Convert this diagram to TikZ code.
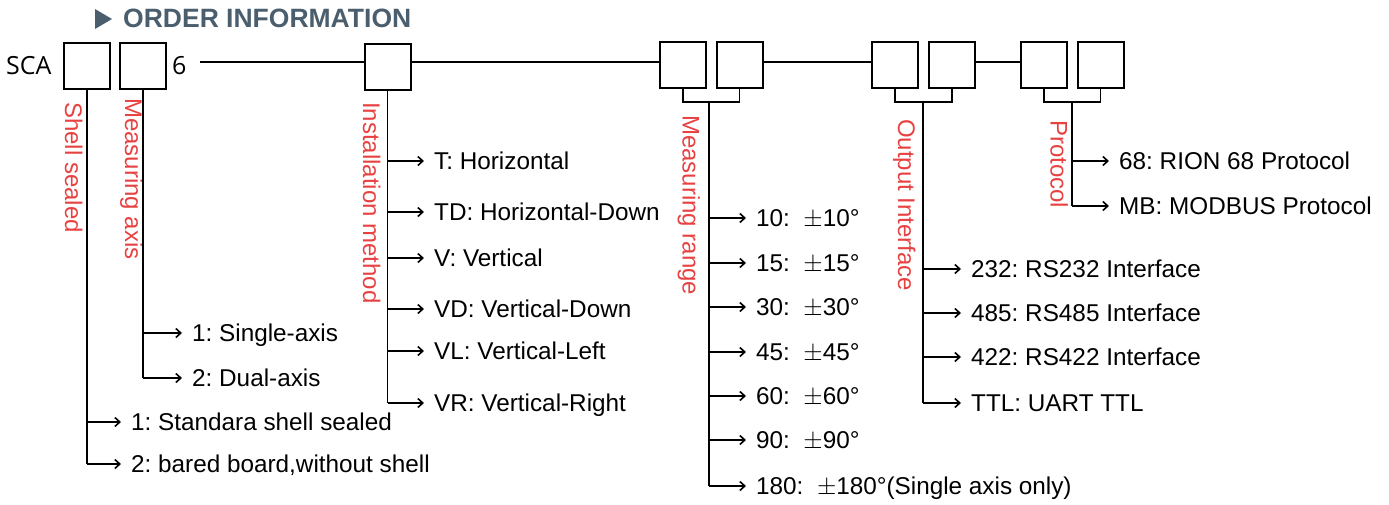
\documentclass[tikz,border=0pt]{standalone}
\usepackage{fontspec}
\setmainfont{Liberation Sans}
\newfontfamily\scafont{Open Sans}
\usetikzlibrary{arrows.meta}
\definecolor{lblred}{RGB}{232,65,65}
\definecolor{ttl}{RGB}{74,94,110}
\frenchspacing
\begin{document}
\begin{tikzpicture}[x=1pt,y=-1pt,
  box/.style={draw,line width=2pt,minimum size=46pt,inner sep=0pt,outer sep=0pt},
  ln/.style={line width=1.8pt},
  arr/.style={line width=1.6pt,-{Straight Barb[length=5pt,width=9pt,line width=1.6pt]},shorten >=10pt},
  opt/.style={font=\fontsize{24.3}{27}\selectfont,inner sep=0pt,text height=17.4pt,text depth=0pt,anchor=west},
  cat/.style={font=\fontsize{24}{27}\selectfont,text=lblred,rotate=-90,anchor=base west,inner sep=0pt}]
\useasboundingbox (0,0) rectangle (1389,504);

% title
\fill[ttl] (95,9) -- (112,19) -- (95,29) -- cycle;
\node[anchor=base west,inner sep=0pt,text=ttl,font=\fontsize{26.5}{29}\selectfont\bfseries] (title) at (123,27) {ORDER INFORMATION};

% code row
\node[anchor=base west,inner sep=0pt,font=\scafont\fontsize{25}{28}\selectfont] (sca) at (6,74) {SCA};
\node[anchor=base west,inner sep=0pt,font=\scafont\fontsize{25}{28}\selectfont] (six) at (172,74) {6};
\node[box] (b1) at (87,66) {};
\node[box] (b2) at (143,66) {};
\node[box] (b3) at (387.5,66.5) {};
\node[box] (b4) at (683,65) {};
\node[box] (b5) at (739.5,65) {};
\node[box] (b6) at (895,65) {};
\node[box] (b7) at (952,65) {};
\node[box] (b8) at (1044,65) {};
\node[box] (b9) at (1100.5,65) {};

\coordinate (l0) at (200,62);
\draw[ln] (l0) -- (b3.west |- l0);
\draw[ln] (b3.east |- l0) -- (b4.west |- l0);
\draw[ln] (b5.east |- l0) -- (b6.west |- l0);
\draw[ln] (b7.east |- l0) -- (b8.west |- l0);

% brackets
\draw[ln] (b4.south) -- (b4.south |- 0,102) -- (b5.south |- 0,102) -- (b5.south);
\draw[ln] (b6.south) -- (b6.south |- 0,102) -- (b7.south |- 0,102) -- (b7.south);
\draw[ln] (b8.south) -- (b8.south |- 0,102) -- (b9.south |- 0,102) -- (b9.south);
\coordinate (r0) at (709,102);
\coordinate (o0) at (923,102);
\coordinate (p0) at (1072,102);

% category labels
\node[cat] (cshell) at (65,102) {Shell sealed};
\node[cat] (caxis) at (125,98) {Measuring axis};
\node[cat] (cinst) at (363,102) {Installation method};
\node[cat] (crange) at (682.5,115) {Measuring range};
\node[cat] (cout) at (898,119) {Output Interface};
\node[cat] (cprot) at (1050.5,120) {Protocol};

% Shell sealed
\node[opt] (s1) at (131,422) {1: Standara shell sealed};
\node[opt] (s2) at (131,464) {2: bared board,without shell};
\coordinate (s1c) at (b1.south |- s1.west);
\coordinate (s2c) at (b1.south |- s2.west);
\draw[ln] (b1.south) -- (s2c);
\draw[arr] (s1c) -- (s1.west);
\draw[arr] (s2c) -- (s2.west);

% Measuring axis
\node[opt] (a1) at (192,333) {1: Single-axis};
\node[opt] (a2) at (192,378) {2: Dual-axis};
\coordinate (a1c) at (b2.south |- a1.west);
\coordinate (a2c) at (b2.south |- a2.west);
\draw[ln] (b2.south) -- (a2c);
\draw[arr] (a1c) -- (a1.west);
\draw[arr] (a2c) -- (a2.west);

% Installation method
\node[opt] (i1) at (434,161) {T: Horizontal};
\node[opt] (i2) at (434,212) {TD: Horizontal-Down};
\node[opt] (i3) at (434,258) {V: Vertical};
\node[opt] (i4) at (434,309) {VD: Vertical-Down};
\node[opt] (i5) at (434,351) {VL: Vertical-Left};
\node[opt] (i6) at (434,403) {VR: Vertical-Right};
\foreach \n in {1,...,6}{\coordinate (i\n c) at (b3.south |- i\n.west);}
\draw[ln] (b3.south) -- (i6c);
\foreach \n in {1,...,6}{\draw[arr] (i\n c) -- (i\n.west);}

% Measuring range
\node[opt] (m1) at (756,218) {10:\ \ $\pm$10°};
\node[opt] (m2) at (756,263) {15:\ \ $\pm$15°};
\node[opt] (m3) at (756,307) {30:\ \ $\pm$30°};
\node[opt] (m4) at (756,352) {45:\ \ $\pm$45°};
\node[opt] (m5) at (756,396) {60:\ \ $\pm$60°};
\node[opt] (m6) at (756,440) {90:\ \ $\pm$90°};
\node[opt] (m7) at (756,486) {180:\ \ $\pm$180°(Single axis only)};
\foreach \n in {1,...,7}{\coordinate (m\n c) at (r0 |- m\n.west);}
\draw[ln] (r0) -- (m7c);
\foreach \n in {1,...,7}{\draw[arr] (m\n c) -- (m\n.west);}

% Output interface
\node[opt] (o1) at (971,269) {232: RS232 Interface};
\node[opt] (o2) at (971,313) {485: RS485 Interface};
\node[opt] (o3) at (971,357) {422: RS422 Interface};
\node[opt] (o4) at (971,403) {TTL: UART TTL};
\foreach \n in {1,...,4}{\coordinate (o\n c) at (o0 |- o\n.west);}
\draw[ln] (o0) -- (o4c);
\foreach \n in {1,...,4}{\draw[arr] (o\n c) -- (o\n.west);}

% Protocol
\node[opt] (p1) at (1119,161) {68: RION 68 Protocol};
\node[opt] (p2) at (1119,206) {MB: MODBUS Protocol};
\foreach \n in {1,2}{\coordinate (p\n c) at (p0 |- p\n.west);}
\draw[ln] (p0) -- (p2c);
\foreach \n in {1,2}{\draw[arr] (p\n c) -- (p\n.west);}
\end{tikzpicture}
\end{document}
